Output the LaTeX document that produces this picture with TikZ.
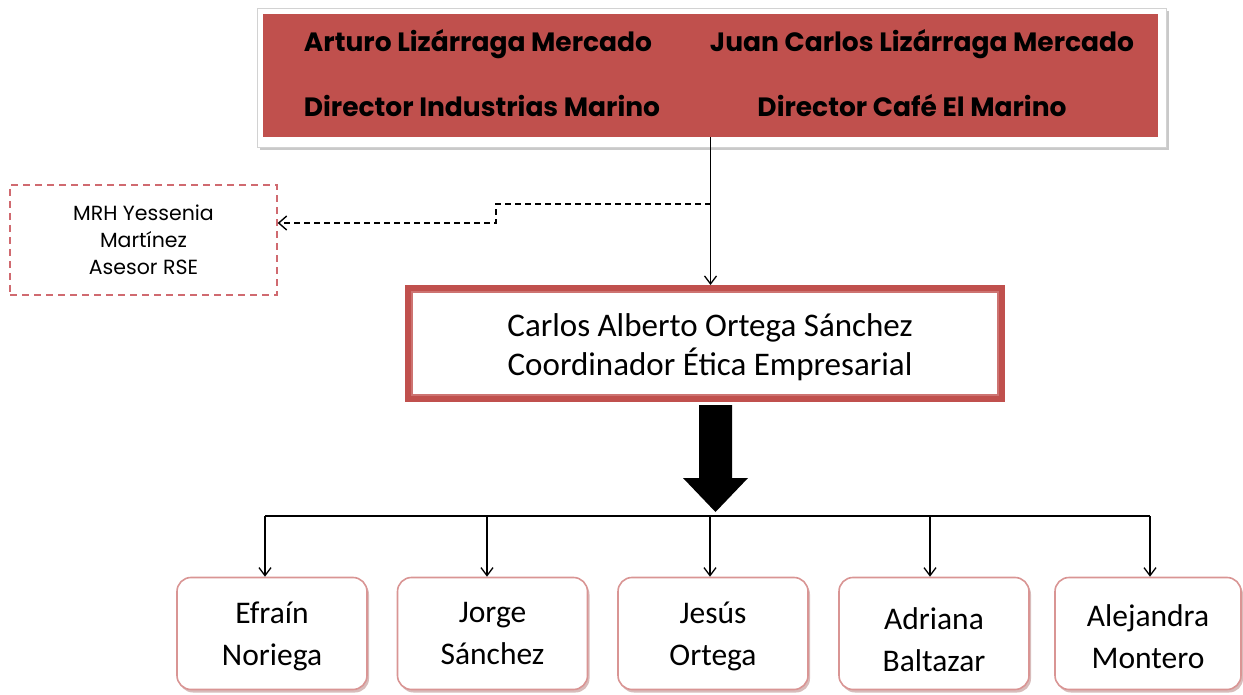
\documentclass[tikz,border=0pt]{standalone}
\usepackage{fontspec}
\setmainfont{Carlito}
\newfontfamily\geo{Poppins}
\usetikzlibrary{shadows,arrows.meta}
\definecolor{redbox}{HTML}{C0504D}
\definecolor{pinkb}{HTML}{D99594}
\definecolor{dashred}{HTML}{D06A70}
\tikzset{
  toptxt/.style={font=\geo\bfseries\fontsize{26.5}{30}\selectfont, text=black, inner sep=0pt},
  leaf/.style={draw=pinkb, line width=1.6pt, rounded corners=14pt, fill=white,
     minimum width=190pt, minimum height=112pt, align=center,
     font=\fontsize{31.5}{42}\selectfont,
     drop shadow={shadow xshift=2pt, shadow yshift=-3pt, fill=pinkb!70!gray, opacity=0.6}},
  leaftxt/.style={align=center, font=\fontsize{31.5}{42}\selectfont, inner sep=0pt},
  conn/.style={line width=1.3pt, -{Straight Barb[length=8pt,width=12pt,line width=1.3pt]}},
}
\begin{document}
\begin{tikzpicture}[x=1pt,y=-1pt]
\useasboundingbox (0,0) rectangle (1243,695);
% top box
\node[draw=gray!35, fill=white, minimum width=909pt, minimum height=139pt, inner sep=0pt,
  drop shadow={shadow xshift=2pt, shadow yshift=-3pt, fill=gray!60, opacity=0.7}] (topframe) at (712,77.5) {};
\node[fill=redbox, minimum width=895pt, minimum height=123pt, inner sep=0pt] (top) at (710.5,75.5) {};
\node[toptxt] (t1) at (478,44) {Arturo Lizárraga Mercado};
\node[toptxt] (t2) at (922,44) {Juan Carlos Lizárraga Mercado};
\node[toptxt] (t3) at (482,106) {Director Industrias Marino};
\node[toptxt] (t4) at (912,106) {Director Café El Marino};
% advisor
\node[draw=dashred, dashed, dash pattern=on 7pt off 5pt, line width=1.3pt, minimum width=267pt, minimum height=110pt,
  align=center, font=\geo\fontsize{20.5}{27}\selectfont] (adv) at (143.5,240) {MRH Yessenia\\Martínez\\Asesor RSE};
% coordinator
\node[draw=redbox, line width=6pt, fill=white, minimum width=594pt, minimum height=111pt, inner sep=0pt] (coord) at (705,343.5) {};
\draw[redbox!80, line width=1.3pt] ([shift={(7pt,7pt)}]coord.south west) rectangle ([shift={(-7pt,-7pt)}]coord.north east);
\node[align=center, font=\fontsize{33}{39}\selectfont, inner sep=0pt] (ctext) at (710,347.5) {Carlos Alberto Ortega Sánchez\\Coordinador Ética Empresarial};
% top -> coordinator
\coordinate (split) at (top.south |- 0,204);
\draw[conn] (top.south) -- (top.south |- coord.north);
\coordinate (bend1) at (496,204);
\coordinate (bend2) at (496,223);
\draw[line width=1.4pt, dashed, dash pattern=on 6pt off 4pt, -{Straight Barb[length=8pt,width=14pt,line width=1.4pt]}]
  (split) -- (bend1) -- (bend2) -- (adv.east |- bend2);
% big arrow
\fill[black] (699,405) -- (732,405) -- (732,478) -- (748,478) -- (715.5,512) -- (683,478) -- (699,478) -- cycle;
% leaves
\node[leaf] (b1) at (272,633.5) {};
\node[leaftxt] (b1t) at (272,636) {Efraín\\Noriega};
\node[leaf] (b2) at (492.5,633.5) {};
\node[leaftxt] (b2t) at (492.5,634) {Jorge\\Sánchez};
\node[leaf] (b3) at (713,633.5) {};
\node[leaftxt] (b3t) at (713,636) {Jesús\\Ortega};
\node[leaf] (b4) at (934,633.5) {};
\node[leaftxt] (b4t) at (934,640) {Adriana\\Baltazar};
\node[leaf, minimum width=186pt] (b5) at (1148,633.5) {};
\node[leaftxt] (b5t) at (1148,637) {Alejandra\\Montero};
% bus
\coordinate (p1) at (265,516);
\coordinate (p2) at (487,516);
\coordinate (p3) at (710,516);
\coordinate (p4) at (930,516);
\coordinate (p5) at (1150,516);
\draw[line width=1.5pt] (p1) -- (p5);
\draw[conn] (p1) -- (p1 |- b1.north);
\draw[conn] (p2) -- (p2 |- b2.north);
\draw[conn] (p3) -- (p3 |- b3.north);
\draw[conn] (p4) -- (p4 |- b4.north);
\draw[conn] (p5) -- (p5 |- b5.north);
\end{tikzpicture}
\end{document}
